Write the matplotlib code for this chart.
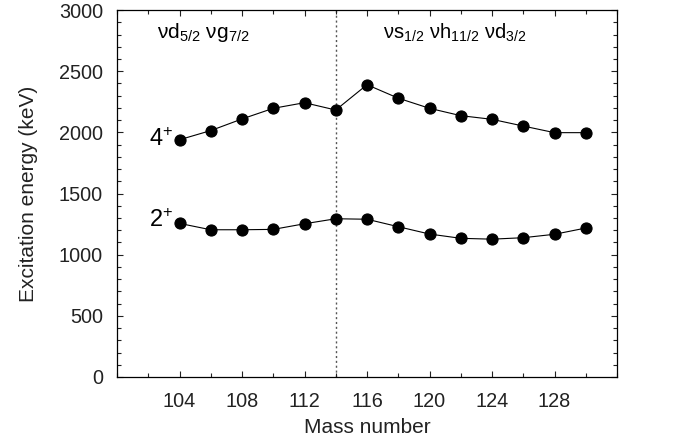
import matplotlib
matplotlib.use("Agg")
import matplotlib.pyplot as plt
from matplotlib.ticker import MultipleLocator

plt.rcParams["font.family"] = ["Liberation Sans", "DejaVu Sans"]
plt.rcParams["mathtext.fontset"] = "custom"
plt.rcParams["mathtext.rm"] = "Liberation Sans"
plt.rcParams["mathtext.it"] = "Liberation Sans"

# Even-mass isotopes and their first excited states (keV)
mass = [104, 106, 108, 110, 112, 114, 116, 118, 120, 122, 124, 126, 128, 130]
e_4plus = [1940, 2015, 2110, 2197, 2243, 2183, 2390, 2280, 2197, 2137, 2107, 2052, 1998, 1998]
e_2plus = [1256, 1204, 1204, 1207, 1253, 1294, 1290, 1229, 1169, 1134, 1127, 1139, 1167, 1218]

shell_split = 114
orbit_labels = [r"$\mathregular{νd_{5/2}\ νg_{7/2}}$",
                r"$\mathregular{νs_{1/2}\ νh_{11/2}\ νd_{3/2}}$"]

fig = plt.figure(figsize=(6.83, 4.40), dpi=100)
ax = fig.add_axes([0.1713, 0.1432, 0.7321, 0.8338])

for e in (e_4plus, e_2plus):
    ax.plot(mass, e, "-o", color="black", lw=0.8, ms=8, markeredgewidth=0.8)

ax.axvline(shell_split, color="#555555", ls=(0, (1.5, 2)), lw=1.0, zorder=0)

ax.set_xlim(100, 132)
ax.set_ylim(0, 3000)
ax.xaxis.set_major_locator(MultipleLocator(4))
ax.xaxis.set_minor_locator(MultipleLocator(2))
ax.yaxis.set_major_locator(MultipleLocator(500))
ax.yaxis.set_minor_locator(MultipleLocator(100))
ax.set_xticks(range(104, 132, 4))
ax.tick_params(which="both", direction="in", top=True, right=True,
               labelsize=14.3, colors="#222222", width=0.8)
ax.tick_params(which="major", length=4.5)
ax.tick_params(which="minor", length=3)
ax.tick_params(axis="x", which="major", pad=10.5)
ax.tick_params(axis="y", which="major", pad=10)
for s in ax.spines.values():
    s.set_linewidth(0.9)

ax.set_xlabel("Mass number", fontsize=15, color="#222222", labelpad=5)
ax.set_ylabel("Excitation energy (keV)", fontsize=15, color="#222222", labelpad=15)

ax.text(103.6, 1889, r"$\mathregular{4^{+}}$", fontsize=17, ha="right", va="baseline")
ax.text(103.6, 1226, r"$\mathregular{2^{+}}$", fontsize=17, ha="right", va="baseline")
ax.text(105.5, 2770, orbit_labels[0], fontsize=15, ha="center", va="baseline")
ax.text(121.6, 2770, orbit_labels[1], fontsize=14.5, ha="center", va="baseline")

fig.savefig("out.png", dpi=100)
